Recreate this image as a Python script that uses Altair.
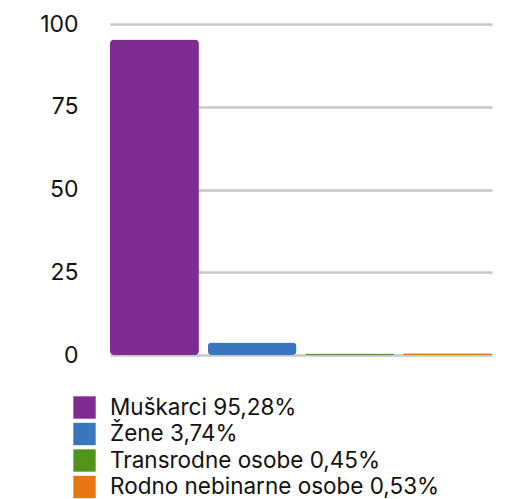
import altair as alt
import pandas as pd

categories = ["Muškarci 95,28%", "Žene 3,74%", "Transrodne osobe 0,45%", "Rodno nebinarne osobe 0,53%"]
values = [95.28, 3.74, 0.45, 0.53]
colors = ["#7e2b92", "#3a76bd", "#4f951b", "#e9760f"]
y_ticks = [0, 25, 50, 75, 100]

df = pd.DataFrame({"cat": categories, "value": values})

FONT = "Inter"

chart = alt.Chart(df).mark_bar(cornerRadius=4).encode(
    x=alt.X("cat:N", sort=categories, axis=None,
            scale=alt.Scale(paddingInner=0.09, paddingOuter=0.0)),
    y=alt.Y("value:Q", scale=alt.Scale(domain=[0, 100], nice=False),
            axis=alt.Axis(values=y_ticks, title=None, domain=False, ticks=False,
                          labelPadding=32, labelFontSize=23, labelColor="#111111",
                          labelFont=FONT, gridColor="#c6c6c6", gridWidth=2.5)),
    color=alt.Color("cat:N", sort=categories,
                    scale=alt.Scale(domain=categories, range=colors),
                    legend=alt.Legend(title=None, orient="none", legendX=-37, legendY=372,
                                      symbolType="square", symbolSize=500,
                                      symbolStrokeWidth=0, symbolOpacity=1,
                                      labelFontSize=22.5, labelFont=FONT, labelColor="#111111",
                                      labelOffset=14, rowPadding=3.5, labelLimit=500)),
).properties(
    width=382, height=331,
    autosize=alt.AutoSizeParams(type="none"),
    padding={"left": 110, "top": 24, "right": 34, "bottom": 144},
).configure(background="white").configure_view(stroke=None, strokeWidth=0)

chart.save("out.html", embed_options={"renderer": "svg", "actions": False})
